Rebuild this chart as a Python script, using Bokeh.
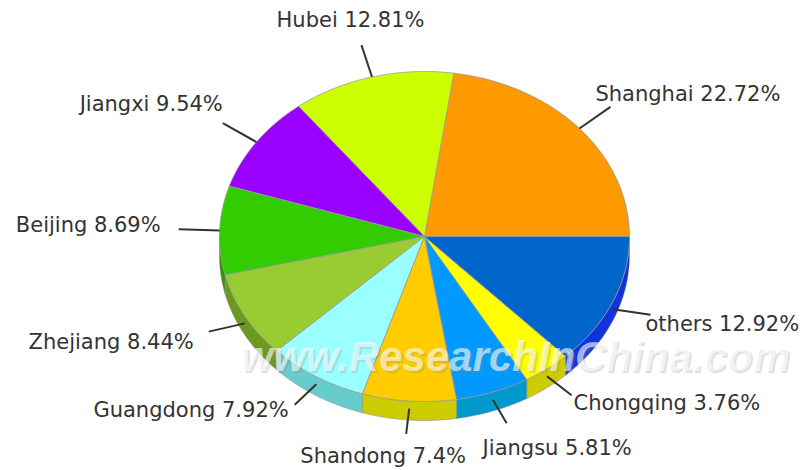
import numpy as np
from bokeh.plotting import figure
from bokeh.models import Range1d, ColumnDataSource
from bokeh.embed import file_html
from bokeh.resources import INLINE
from bokeh.core.properties import value

# ---- data ----
regions = ["Shanghai", "Hubei", "Jiangxi", "Beijing", "Zhejiang",
           "Guangdong", "Shandong", "Jiangsu", "Chongqing", "others"]
shares = [22.72, 12.81, 9.54, 8.69, 8.44, 7.92, 7.4, 5.81, 3.76, 12.92]

# ---- styles ----
top_colors = ["#FF9900", "#CCFF00", "#9900FF", "#33CC00", "#99CC33",
              "#99FFFF", "#FFCC00", "#0099FF", "#FFFF00", "#0066CC"]
side_colors = ["#CC7A00", "#99CC00", "#7700CC", "#289900", "#6B9A1F",
               "#66CCCC", "#CCCC00", "#0099CC", "#CCCC00", "#1133DD"]
# label placement relative to the leader's outer end: (align, dx, dy)
label_layout = [("left", -15, -13), ("center", -11, -25), ("right", 0, -19),
                ("right", -18, -4), ("right", -15, 10), ("right", -6, 5),
                ("center", -23, 22), ("left", -24, 25), ("left", 2, 8),
                ("left", -5, 9)]

W, H = 803, 470
cx, cy, rx, ry, depth = 424, 236, 205, 165, 19

p = figure(width=W, height=H, x_range=Range1d(0, W), y_range=Range1d(H, 0),
           output_backend="svg", toolbar_location=None,
           x_axis_location=None, y_axis_location=None, min_border=0)
p.grid.visible = False
p.outline_line_color = None
p.background_fill_color = "white"
p.border_fill_color = "white"

total = sum(shares)
fr = np.array(shares) / total
ends = np.cumsum(fr) * 2 * np.pi
starts = np.concatenate([[0.0], ends[:-1]])


def ex(t, s=1.0):
    return cx + s * rx * np.cos(t)


def ey(t, s=1.0):
    return cy - s * ry * np.sin(t)


# sides (visible only for the front half: angles pi..2pi)
side_xs, side_ys, side_c = [], [], []
for a1, a2, c in zip(starts, ends, side_colors):
    lo, hi = max(a1, np.pi), min(a2, 2 * np.pi)
    if hi <= lo:
        continue
    t = np.linspace(lo, hi, 60)
    xs = list(ex(t)) + list(ex(t[::-1]))
    ys = list(ey(t)) + list(ey(t[::-1]) + depth)
    side_xs.append(xs)
    side_ys.append(ys)
    side_c.append(c)
p.patches(xs="xs", ys="ys", fill_color="c", line_color="#888888",
          line_width=1, line_alpha=0.5,
          source=ColumnDataSource(dict(xs=side_xs, ys=side_ys, c=side_c)))

# top faces
top_xs, top_ys = [], []
for a1, a2 in zip(starts, ends):
    t = np.linspace(a1, a2, 120)
    top_xs.append([cx] + list(ex(t)))
    top_ys.append([cy] + list(ey(t)))
p.patches(xs="xs", ys="ys", fill_color="c", line_color="#999999",
          line_width=1, line_alpha=0.8,
          source=ColumnDataSource(dict(xs=top_xs, ys=top_ys, c=top_colors)))

# watermark
p.text(x=[242], y=[358], text=["www.ResearchInChina.com"],
       text_font=value("Liberation Sans"), text_font_size="42px",
       text_font_style="bold italic", text_color="#888888", text_alpha=0.25,
       text_baseline="middle", text_align="left")
p.text(x=[240], y=[356], text=["www.ResearchInChina.com"],
       text_font=value("Liberation Sans"), text_font_size="42px",
       text_font_style="bold italic", text_color="white", text_alpha=0.6,
       text_baseline="middle", text_align="left")

# leaders and labels
mids = (starts + ends) / 2
lx0, ly0, lx1, ly1 = [], [], [], []
tx, ty, ta, tt = [], [], [], []
for r, s, m, (al, dx, dy) in zip(regions, shares, mids, label_layout):
    off = depth * 0.4 if np.sin(m) < 0 else 0.0
    x0, y0 = ex(m), ey(m) + off
    x1, y1 = ex(m, 1.2), ey(m, 1.2)
    lx0.append(x0); ly0.append(y0); lx1.append(x1); ly1.append(y1)
    tx.append(x1 + dx); ty.append(y1 + dy); ta.append(al)
    tt.append(f"{r} {s:g}%")
p.segment(x0=lx0, y0=ly0, x1=lx1, y1=ly1, line_color="#333333", line_width=2)

for al in ["left", "center", "right"]:
    idx = [i for i, a in enumerate(ta) if a == al]
    p.text(x=[tx[i] for i in idx], y=[ty[i] for i in idx],
           text=[tt[i] for i in idx], text_align=al, text_baseline="middle",
           text_font=value("DejaVu Sans"), text_font_size="21px",
           text_color="#333333")

open("out.html", "w").write(file_html(p, INLINE))
